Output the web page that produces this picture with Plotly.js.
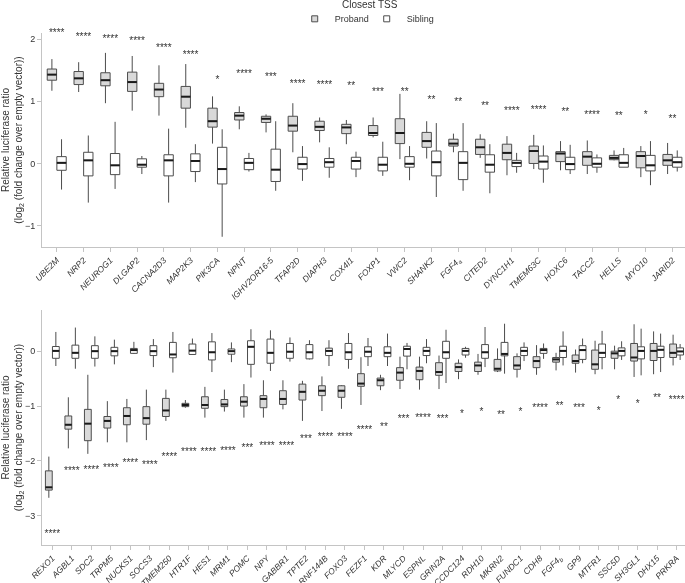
<!DOCTYPE html>
<html>
<head>
<meta charset="utf-8">
<script src="https://cdn.plot.ly/plotly-3.0.1.min.js"></script>
<style>
  html, body { margin: 0; padding: 0; background: #fff; }
  #chart { width: 685px; height: 583px; filter: grayscale(100%); }
</style>
</head>
<body>
<div id="chart"></div>
<script>
// ---- Upper panel: genes where the proband allele raises luciferase activity ----
const genesTop = ['UBE2M','NRP2','NEUROG1','DLGAP2','CACNA2D3','MAP2K3','PIK3CA','NPNT','IGHV2OR16-5','TFAP2D','DIAPH3','COX4I1','FOXP1','VWC2','SHANK2','FGF4<sub>a</sub>','CITED2','DYNC1H1','TMEM63C','HOXC6','TACC2','HELLS','MYO10','JARID2'];
const starsTop = ['****','****','****','****','****','****','*','****','***','****','****','**','***','**','**','**','**','****','****','**','****','**','*','**'];

const probTopUpper = [1.68,1.63,1.78,1.73,1.58,1.60,1.08,0.92,0.79,0.97,0.74,0.70,0.74,1.12,0.68,0.48,0.47,0.44,0.46,0.36,0.37,0.21,0.28,0.33];
const probTopQ3    = [1.52,1.48,1.46,1.47,1.29,1.24,0.89,0.82,0.76,0.76,0.68,0.63,0.61,0.72,0.50,0.39,0.39,0.31,0.28,0.19,0.19,0.13,0.19,0.145];
const probTopMed   = [1.43,1.37,1.34,1.31,1.19,1.075,0.68,0.77,0.72,0.61,0.59,0.58,0.49,0.49,0.36,0.32,0.26,0.17,0.20,0.16,0.11,0.09,0.12,0.05];
const probTopQ1    = [1.34,1.27,1.25,1.16,1.075,0.89,0.585,0.70,0.66,0.52,0.53,0.48,0.45,0.32,0.26,0.28,0.145,0.06,0.0,0.03,-0.03,0.06,-0.07,-0.03];
const probTopLower = [1.17,1.15,0.97,0.85,0.77,0.575,0.32,0.55,0.50,0.18,0.34,0.31,0.42,0.07,0.08,0.18,0.09,-0.19,-0.09,-0.11,-0.17,0.05,-0.22,-0.17];

const sibTopUpper = [0.39,0.45,0.67,0.12,0.56,0.31,0.55,0.17,0.68,0.28,0.26,0.19,0.35,0.28,0.65,0.65,0.31,0.17,0.29,0.30,0.145,0.25,0.36,0.21];
const sibTopQ3    = [0.11,0.18,0.16,0.075,0.14,0.155,0.26,0.08,0.23,0.10,0.08,0.10,0.10,0.11,0.20,0.19,0.14,0.05,0.12,0.10,0.09,0.14,0.13,0.10];
const sibTopMed   = [0.01,0.05,-0.03,-0.02,0.05,0.04,-0.09,0.01,-0.10,-0.01,0.02,0.04,-0.02,-0.005,0.02,0.01,-0.02,0.01,0.03,-0.01,-0.005,0.01,-0.03,0.02];
const sibTopQ1    = [-0.11,-0.20,-0.18,-0.06,-0.20,-0.13,-0.33,-0.10,-0.29,-0.09,-0.06,-0.09,-0.12,-0.06,-0.20,-0.26,-0.14,-0.05,-0.09,-0.10,-0.06,-0.06,-0.12,-0.06];
const sibTopLower = [-0.42,-0.63,-0.41,-0.17,-0.63,-0.30,-1.18,-0.13,-0.44,-0.28,-0.23,-0.22,-0.20,-0.27,-0.54,-0.44,-0.48,-0.15,-0.31,-0.17,-0.15,-0.06,-0.35,-0.13];

// ---- Lower panel: genes where the proband allele lowers luciferase activity ----
const genesBottom = ['REXO1','AGBL1','SDC2','TRPM5','NUCKS1','SOCS3','TMEM250','HTR1F','HES1','MRM1','POMC','NPY','GABBR1','TPTE2','RNF144B','FOXO3','FEZF1','KDR','MLYCD','ESPNL','GRIN2A','CCDC124','RDH10','MKRN2','FUNDC1','CDH8','FGF4<sub>b</sub>','GP9','MTFR1','SSC5D','SH3GL1','DHX15','PRKRA'];
const starsBottom = ['****','****','****','****','****','****','****','****','****','****','***','****','****','***','****','****','****','**','***','****','***','*','*','**','*','****','**','***','*','*','*','**','****'];

const probBotUpper = [-1.92,-0.84,-0.43,-0.91,-0.87,-0.70,-0.70,-0.89,-0.65,-0.70,-0.60,-0.53,-0.53,-0.54,-0.46,-0.62,-0.11,-0.43,-0.10,-0.10,-0.08,-0.15,-0.05,0.05,-0.04,0.11,-0.03,0.03,0.19,0.10,0.49,0.36,0.30];
const probBotQ3    = [-2.18,-1.18,-1.06,-1.19,-1.03,-1.01,-0.86,-0.95,-0.83,-0.88,-0.83,-0.81,-0.72,-0.60,-0.63,-0.63,-0.41,-0.49,-0.30,-0.29,-0.21,-0.22,-0.20,-0.15,-0.10,-0.10,-0.115,-0.07,0.02,0.0,0.14,0.14,0.13];
const probBotMed   = [-2.48,-1.34,-1.32,-1.27,-1.18,-1.22,-1.08,-0.98,-0.98,-0.97,-0.92,-0.87,-0.87,-0.74,-0.72,-0.72,-0.59,-0.53,-0.39,-0.36,-0.38,-0.29,-0.26,-0.32,-0.26,-0.18,-0.15,-0.18,-0.24,-0.04,-0.115,0.005,-0.03];
const probBotQ1    = [-2.53,-1.42,-1.63,-1.40,-1.34,-1.33,-1.19,-1.01,-1.04,-1.01,-1.00,-1.03,-0.97,-0.89,-0.81,-0.84,-0.64,-0.63,-0.53,-0.52,-0.44,-0.37,-0.37,-0.36,-0.33,-0.30,-0.20,-0.22,-0.33,-0.13,-0.18,-0.17,-0.115];
const probBotLower = [-2.67,-1.77,-1.87,-1.66,-1.66,-1.62,-1.27,-1.03,-1.21,-1.10,-1.21,-1.21,-1.06,-1.27,-1.09,-1.05,-0.98,-0.71,-0.69,-0.70,-0.69,-0.51,-0.43,-0.38,-0.48,-0.43,-0.35,-0.39,-0.42,-0.33,-0.47,-0.42,-0.26];

const sibBotUpper = [0.35,0.43,0.27,0.21,0.17,0.22,0.35,0.23,0.33,0.16,0.40,0.38,0.25,0.20,0.20,0.33,0.24,0.32,0.15,0.22,0.39,0.08,0.44,0.50,0.16,0.14,0.36,0.23,0.37,0.18,0.41,0.32,0.13];
const sibBotQ3    = [0.085,0.11,0.10,0.07,0.05,0.10,0.16,0.13,0.17,0.04,0.19,0.22,0.14,0.12,0.055,0.14,0.08,0.08,0.09,0.07,0.18,0.05,0.12,0.16,0.07,0.05,0.09,0.10,0.13,0.06,0.08,0.09,0.06];
const sibBotMed   = [0.005,-0.03,0.0,0.0,0.02,0.0,-0.06,0.01,-0.02,0.0,0.08,-0.03,-0.01,-0.02,0.005,-0.02,-0.01,-0.03,0.04,0.005,-0.02,0.005,-0.02,-0.05,0.005,0.02,0.005,0.02,-0.03,0.005,0.005,0.025,-0.005];
const sibBotQ1    = [-0.13,-0.13,-0.13,-0.085,-0.04,-0.08,-0.12,-0.06,-0.16,-0.055,-0.24,-0.22,-0.13,-0.14,-0.08,-0.15,-0.10,-0.10,-0.09,-0.08,-0.13,-0.07,-0.13,-0.085,-0.08,-0.04,-0.115,-0.15,-0.115,-0.085,-0.14,-0.115,-0.07];
const sibBotLower = [-0.27,-0.32,-0.28,-0.24,-0.05,-0.29,-0.39,-0.06,-0.38,-0.20,-0.48,-0.36,-0.19,-0.15,-0.27,-0.32,-0.27,-0.27,-0.33,-0.22,-0.58,-0.12,-0.29,-0.41,-0.18,-0.14,-0.26,-0.22,-0.33,-0.16,-0.44,-0.38,-0.16];

// ---- styling ----
const FONT = 'Liberation Sans, Arial, sans-serif';
const TEXT = '#333333';
const AXIS = '#c4c4c4';
const BOX_LINE = '#4d4d4d';
const PROBAND_FILL = '#d9d9d9';
const SIBLING_FILL = '#ffffff';
const BOXGAP = 0.28, BOXGROUPGAP = 0.03;
const STAR_ABOVE = 0.66, STAR_BELOW = -0.86;

const idx = arr => arr.map((_, i) => i);

function boxTrace(name, fill, xa, ya, x, lower, q1, med, q3, upper) {
  return {
    type: 'box', name, x, q1, median: med, q3,
    lowerfence: lower, upperfence: upper,
    boxpoints: false, whiskerwidth: 0,
    fillcolor: fill, line: { color: BOX_LINE, width: 1 },
    offsetgroup: name, legendgroup: name, showlegend: false,
    xaxis: xa, yaxis: ya, hoverinfo: 'skip'
  };
}

// compact legend key for each group
function legendKey(name, fill) {
  return {
    type: 'scatter', mode: 'markers', name, x: [null], y: [null],
    marker: { symbol: 'square', size: 6, color: fill, line: { color: BOX_LINE, width: 1 } },
    legendgroup: name, showlegend: true, hoverinfo: 'skip'
  };
}

// thicker median bar drawn on top of each grouped box
function medianTrace(med, side, xa, ya) {
  const off = (1 - BOXGAP) / 4;
  const hw = (1 - BOXGAP) * (1 - BOXGROUPGAP) / 4;
  const xs = [], ys = [];
  med.forEach((m, i) => {
    const c = i + side * off;
    xs.push(c - hw, c + hw, null);
    ys.push(m, m, null);
  });
  return { type: 'scatter', mode: 'lines', x: xs, y: ys, xaxis: xa, yaxis: ya,
           line: { color: '#1a1a1a', width: 2 }, showlegend: false, hoverinfo: 'skip' };
}

function starTrace(stars, med, shift, xa, ya) {
  return { type: 'scatter', mode: 'text', x: idx(stars), y: med.map(m => m + shift),
           text: stars, textposition: 'middle center',
           textfont: { family: FONT, size: 10, color: TEXT },
           xaxis: xa, yaxis: ya, showlegend: false, hoverinfo: 'skip', cliponaxis: false };
}

const xTop = idx(genesTop), xBot = idx(genesBottom);

const data = [
  boxTrace('Proband', PROBAND_FILL, 'x', 'y', xTop, probTopLower, probTopQ1, probTopMed, probTopQ3, probTopUpper),
  boxTrace('Sibling', SIBLING_FILL, 'x', 'y', xTop, sibTopLower, sibTopQ1, sibTopMed, sibTopQ3, sibTopUpper),
  boxTrace('Proband', PROBAND_FILL, 'x2', 'y2', xBot, probBotLower, probBotQ1, probBotMed, probBotQ3, probBotUpper),
  boxTrace('Sibling', SIBLING_FILL, 'x2', 'y2', xBot, sibBotLower, sibBotQ1, sibBotMed, sibBotQ3, sibBotUpper),
  medianTrace(probTopMed, -1, 'x', 'y'),
  medianTrace(sibTopMed, 1, 'x', 'y'),
  medianTrace(probBotMed, -1, 'x2', 'y2'),
  medianTrace(sibBotMed, 1, 'x2', 'y2'),
  starTrace(starsTop, probTopMed, STAR_ABOVE, 'x', 'y'),
  starTrace(starsBottom, probBotMed, STAR_BELOW, 'x2', 'y2'),
  legendKey('Proband', PROBAND_FILL),
  legendKey('Sibling', SIBLING_FILL)
];

const yTitle = 'Relative luciferase ratio<br>(log<sub>2</sub> (fold change over empty vector))';

function xAxis(genes, range, anchor) {
  return {
    anchor, range, tickmode: 'array', tickvals: idx(genes),
    ticktext: genes.map(g => '<i>' + g + '</i>'),
    tickangle: -45, tickfont: { family: FONT, size: 8.5, color: TEXT },
    showline: true, linecolor: AXIS, linewidth: 1,
    ticks: 'outside', ticklen: 4, tickcolor: AXIS, tickwidth: 1,
    showgrid: false, zeroline: false, automargin: false, fixedrange: true
  };
}
function yAxis(domain, range, tickvals, anchor) {
  return {
    anchor, domain, range, tickmode: 'array', tickvals,
    tickfont: { family: FONT, size: 9, color: TEXT },
    showline: true, linecolor: AXIS, linewidth: 1,
    ticks: 'outside', ticklen: 4, tickcolor: AXIS, tickwidth: 1,
    showgrid: false, zeroline: false, automargin: false, fixedrange: true,
    title: { text: yTitle, font: { family: FONT, size: 10, color: TEXT }, standoff: 6 }
  };
}

const layout = {
  width: 685, height: 583,
  margin: { l: 42, r: 0, t: 33, b: 38 },
  paper_bgcolor: '#ffffff', plot_bgcolor: '#ffffff',
  font: { family: FONT, color: TEXT },
  boxmode: 'group', boxgap: BOXGAP, boxgroupgap: BOXGROUPGAP,
  showlegend: true,
  legend: {
    orientation: 'h', x: 0.505, xanchor: 'center', y: 1.056, yanchor: 'top',
    font: { family: FONT, size: 9, color: TEXT },
    itemwidth: 30, entrywidth: 27, bgcolor: 'rgba(0,0,0,0)'
  },
  annotations: [{
    text: 'Closest TSS', xref: 'paper', yref: 'paper', x: 0.51, y: 1.055,
    xanchor: 'center', yanchor: 'middle', showarrow: false,
    font: { family: FONT, size: 10, color: TEXT }
  }],
  xaxis: xAxis(genesTop, [-0.55, 23.47], 'y'),
  yaxis: yAxis([0.582, 1], [-1.345, 2.10], [-1, 0, 1, 2], 'x'),
  xaxis2: xAxis(genesBottom, [-0.53, 32.43], 'y2'),
  yaxis2: yAxis([0, 0.459], [-3.53, 0.75], [-3, -2, -1, 0], 'x2')
};

Plotly.newPlot('chart', data, layout, { displayModeBar: false, staticPlot: true });
</script>
</body>
</html>
